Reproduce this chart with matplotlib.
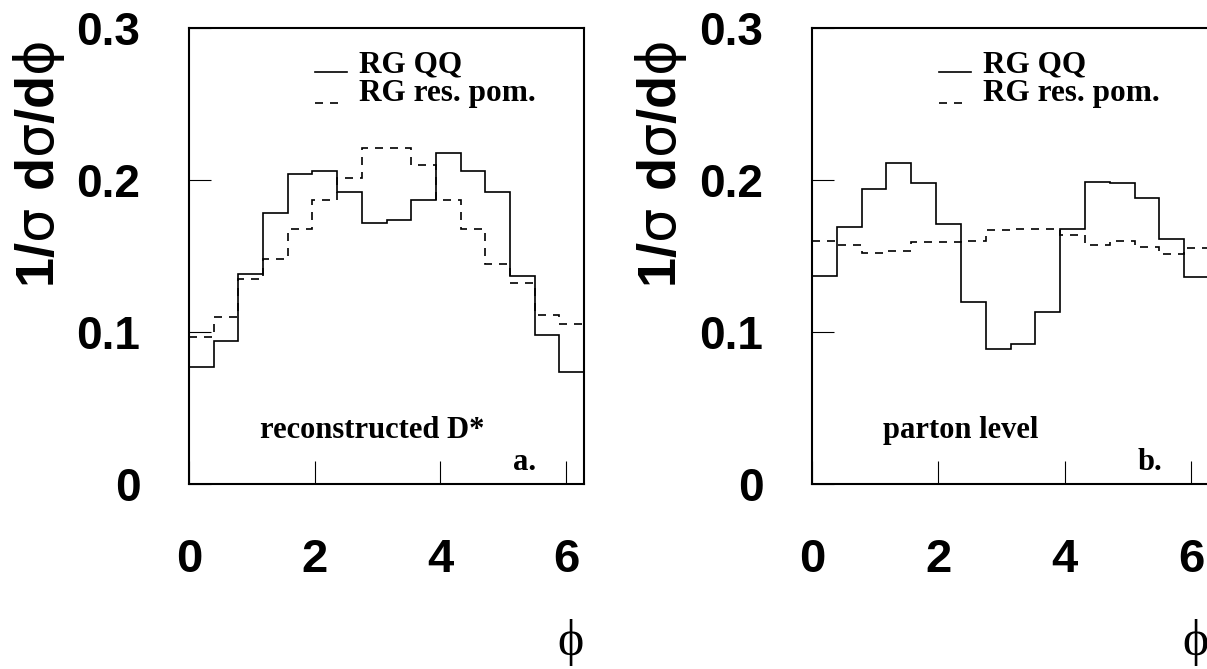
import numpy as np
import matplotlib
matplotlib.use("Agg")
import matplotlib.pyplot as plt

plt.rcParams['mathtext.fontset'] = 'custom'
plt.rcParams['mathtext.it'] = 'DejaVu Sans'
plt.rcParams['mathtext.rm'] = 'DejaVu Sans'
plt.rcParams['mathtext.bf'] = 'Liberation Sans:bold'

# Normalised azimuthal distributions, 16 bins over [0, 2pi]
rec_qq = [0.077, 0.094, 0.138, 0.178, 0.204, 0.206, 0.192, 0.172,
          0.174, 0.187, 0.218, 0.206, 0.192, 0.137, 0.098, 0.074]
rec_pom = [0.097, 0.110, 0.135, 0.148, 0.168, 0.187, 0.201, 0.221,
           0.221, 0.210, 0.187, 0.168, 0.145, 0.132, 0.111, 0.105]
par_qq = [0.137, 0.169, 0.194, 0.211, 0.198, 0.171, 0.120, 0.089,
          0.092, 0.113, 0.168, 0.199, 0.198, 0.188, 0.161, 0.136]
par_pom = [0.160, 0.157, 0.152, 0.153, 0.159, 0.159, 0.160, 0.167,
           0.168, 0.168, 0.164, 0.157, 0.160, 0.156, 0.151, 0.155]

series_names = ["RG QQ", "RG res. pom."]
panel_titles = ["reconstructed D*", "parton level"]
panel_tags = ["a.", "b."]
xticks = [0, 2, 4, 6]
yticks = [0, 0.1, 0.2, 0.3]
ytick_labels = ["0", "0.1", "0.2", "0.3"]

W, H = 1207, 669
fig = plt.figure(figsize=(W / 100, H / 100), dpi=100)

serif = ['Liberation Serif', 'DejaVu Serif']
sans = ['Liberation Sans', 'DejaVu Sans']
dash = (0, (4.8, 4.2))

panels = [
    (189, rec_qq, rec_pom, 395),
    (812, par_qq, par_pom, 397),
]

for i, (x0, qq, pom, wpx) in enumerate(panels):
    ax = fig.add_axes([x0 / W, 1 - 484 / H, wpx / W, 456 / H])
    edges = np.linspace(0, 2 * np.pi, len(qq) + 1)
    ax.stairs(qq, edges, baseline=None, color='black', lw=1.2)
    ax.stairs(pom, edges, baseline=None, color='black', lw=1.2, linestyle=dash)

    ax.set_xlim(0, 2 * np.pi)
    ax.set_ylim(0, 0.3)
    ax.set_xticks(xticks)
    ax.set_xticklabels([str(t) for t in xticks], fontfamily=sans,
                       fontweight='bold', fontsize=34)
    ax.set_yticks(yticks)
    ax.set_yticklabels(ytick_labels, fontfamily=sans, fontweight='bold',
                       fontsize=33)
    ax.tick_params(axis='x', direction='in', length=16.5, width=0.8, pad=39)
    ax.tick_params(axis='y', direction='in', length=16, width=0.8, pad=35)
    for sp in ax.spines.values():
        sp.set_linewidth(1.5)

    # legend drawn at the text baseline
    ax.plot([0.319, 0.40], [0.903, 0.903], transform=ax.transAxes,
            color='black', lw=1.2, clip_on=False)
    ax.plot([0.319, 0.385], [0.836, 0.836], transform=ax.transAxes,
            color='black', lw=1.2, linestyle=dash, clip_on=False)
    ax.text(0.43, 0.903, series_names[0], transform=ax.transAxes,
            fontfamily=serif, fontweight='bold', fontsize=22.5,
            ha='left', va='baseline')
    ax.text(0.43, 0.839, series_names[1], transform=ax.transAxes,
            fontfamily=serif, fontweight='bold', fontsize=22.5,
            ha='left', va='baseline')

    ax.text(0.18, 0.101, panel_titles[i], transform=ax.transAxes,
            fontfamily=serif, fontweight='bold', fontsize=22,
            ha='left', va='baseline')
    ax.text(0.82, 0.031, panel_tags[i], transform=ax.transAxes,
            fontfamily=serif, fontweight='bold', fontsize=22,
            ha='left', va='baseline')

    ax.text(-0.38, 0.70, r'$\mathbf{1/}\sigma\ \mathbf{d}\sigma\mathbf{/d}\phi$',
            transform=ax.transAxes, rotation=90, fontsize=39,
            ha='center', va='center')
    ax.text(0.967, (484 - 642) / 456, '\u03d5', transform=ax.transAxes,
            fontfamily=serif, fontsize=36, ha='center', va='center')

fig.savefig('out.png', dpi=100)
